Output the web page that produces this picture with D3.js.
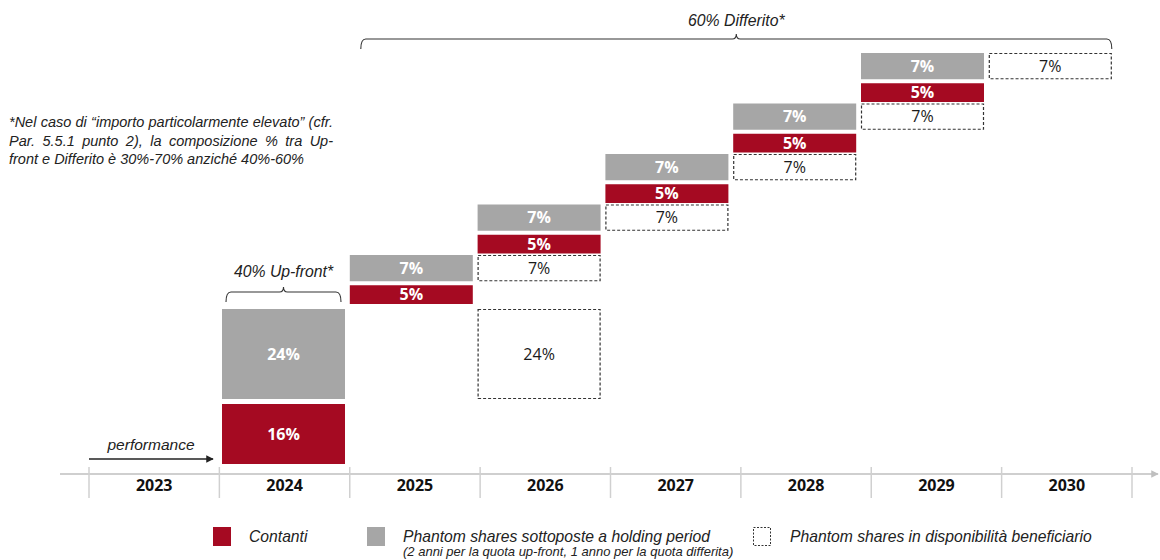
<!DOCTYPE html>
<html>
<head>
<meta charset="utf-8">
<script src="https://cdn.jsdelivr.net/npm/d3@7/dist/d3.min.js"></script>
<style>
  body { margin: 0; background: #fff; }
  svg { display: block; }
  .ital { font-family: "Liberation Sans", Arial, sans-serif; font-style: italic; fill: #222; }
  .barText { font-family: "Open Sans", sans-serif; font-size: 16px; }
</style>
</head>
<body>
<div class="chart"></div>
<script>
var svgWidth = 1160;
var svgHeight = 560;

// Data
var years = ["2023", "2024", "2025", "2026", "2027", "2028", "2029", "2030"];
var upfrontYear = "2024";
// paid blocks, stacked like a staircase (bottom to top)
var blockYears = ["2024", "2024", "2025", "2025", "2026", "2026", "2027", "2027", "2028", "2028", "2029", "2029"];
var blockKinds = ["cash", "shares", "cash", "shares", "cash", "shares", "cash", "shares", "cash", "shares", "cash", "shares"];
var blockValues = [16, 24, 5, 7, 5, 7, 5, 7, 5, 7, 5, 7];
// year in which each block of shares becomes available (after the holding period)
var releaseYears = [null, "2026", null, "2026", null, "2027", null, "2028", null, "2029", null, "2030"];

var upfrontLabel = "40% Up-front*";
var deferredLabel = "60% Differito*";
var noteLines = [
  "*Nel caso di \u201cimporto particolarmente elevato\u201d (cfr.",
  "Par. 5.5.1 punto 2), la composizione % tra Up-",
  "front e Differito \u00e8 30%-70% anzich\u00e9 40%-60%"
];
var legendLabels = ["Contanti", "Phantom shares sottoposte a holding period", "Phantom shares in disponibilit\u00e0 beneficiario"];
var legendSub = "(2 anni per la quota up-front, 1 anno per la quota differita)";

var red = "#A50A22";
var grey = "#A6A6A6";

var svg = d3.select(".chart")
  .append("svg")
  .attr("width", svgWidth)
  .attr("height", svgHeight);

// Scales
var xAxisScale = d3.scaleBand()
  .domain(years)
  .range([89, 1132]);

var xBar = d3.scaleBand()
  .domain(years)
  .range([94.2, 1111.8])
  .paddingInner(0.0376);

var yScale = d3.scaleLinear()
  .domain([0, 100])
  .range([464, 89]);

// build the blocks with small gaps between them
var cum = 0, off = 0;
var blocks = blockValues.map(function (v, i) {
  if (i > 0) {
    var same = blockYears[i] === blockYears[i - 1];
    off += blockYears[i - 1] === upfrontYear ? 5 : (same ? 4 : 1.5);
  }
  var b = {
    year: blockYears[i],
    kind: blockKinds[i],
    value: v,
    release: releaseYears[i],
    top: yScale(cum + v) - off,
    bottom: yScale(cum) - off
  };
  cum += v;
  return b;
});

var released = blocks.filter(function (d) { return d.release; });

// Axis
svg.append("defs").append("marker")
  .attr("id", "axisArrow")
  .attr("viewBox", "0 0 10 10")
  .attr("refX", 9).attr("refY", 5)
  .attr("markerWidth", 5).attr("markerHeight", 5)
  .attr("markerUnits", "strokeWidth")
  .attr("orient", "auto")
  .append("path").attr("d", "M0,0 L10,5 L0,10 z").attr("fill", "#BFBFBF");

svg.select("defs").append("marker")
  .attr("id", "perfArrow")
  .attr("viewBox", "0 0 10 10")
  .attr("refX", 9).attr("refY", 5)
  .attr("markerWidth", 5).attr("markerHeight", 5)
  .attr("markerUnits", "strokeWidth")
  .attr("orient", "auto")
  .append("path").attr("d", "M0,0 L10,5 L0,10 z").attr("fill", "#222");

var axisY = 474;
svg.append("line")
  .attr("x1", 60).attr("x2", 1158)
  .attr("y1", axisY).attr("y2", axisY)
  .attr("stroke", "#BFBFBF")
  .attr("stroke-width", 1.5)
  .attr("marker-end", "url(#axisArrow)");

var seps = years.map(function (y) { return xAxisScale(y); }).concat([xAxisScale.range()[1]]);
svg.selectAll(".sep")
  .data(seps)
  .enter()
  .append("line")
  .attr("class", "sep")
  .attr("x1", d => d).attr("x2", d => d)
  .attr("y1", 467).attr("y2", 498)
  .attr("stroke", "#D0D0D0")
  .attr("stroke-width", 1.5);

var bottomAxis = d3.axisBottom(xAxisScale).tickSize(0).tickPadding(6);
var axisG = svg.append("g")
  .attr("transform", `translate(0, ${axisY})`)
  .call(bottomAxis);
axisG.select(".domain").remove();
axisG.selectAll("text")
  .attr("font-family", "'Open Sans', sans-serif")
  .attr("font-size", 16)
  .attr("font-weight", "bold")
  .attr("fill", "#111");

// Paid blocks
svg.selectAll(".block")
  .data(blocks)
  .enter()
  .append("rect")
  .attr("class", "block")
  .attr("x", d => xBar(d.year))
  .attr("y", d => d.top)
  .attr("width", xBar.bandwidth())
  .attr("height", d => d.bottom - d.top)
  .attr("fill", d => d.kind === "cash" ? red : grey);

svg.selectAll(".blockText")
  .data(blocks)
  .enter()
  .append("text")
  .attr("class", "barText")
  .attr("x", d => xBar(d.year) + xBar.bandwidth() / 2)
  .attr("y", d => (d.top + d.bottom) / 2)
  .attr("dy", "0.36em")
  .attr("text-anchor", "middle")
  .attr("font-weight", "bold")
  .attr("fill", "#fff")
  .text(d => d.value + "%");

// Released shares (dashed)
svg.selectAll(".rel")
  .data(released)
  .enter()
  .append("rect")
  .attr("class", "rel")
  .attr("x", d => xBar(d.release) + 0.5)
  .attr("y", d => d.top + 0.5)
  .attr("width", xBar.bandwidth() - 1)
  .attr("height", d => d.bottom - d.top - 1)
  .attr("fill", "#fff")
  .attr("stroke", "#333")
  .attr("stroke-width", 1.2)
  .attr("stroke-dasharray", "3,2");

svg.selectAll(".relText")
  .data(released)
  .enter()
  .append("text")
  .attr("class", "barText")
  .attr("x", d => xBar(d.release) + xBar.bandwidth() / 2)
  .attr("y", d => (d.top + d.bottom) / 2)
  .attr("dy", "0.36em")
  .attr("text-anchor", "middle")
  .attr("fill", "#1a1a1a")
  .text(d => d.value + "%");

// Braces
function brace(x0, x1, y, h) {
  var cx = (x0 + x1) / 2;
  return `M${x0},${y + h} Q${x0},${y} ${x0 + 5},${y} H${cx - 4} Q${cx},${y} ${cx},${y - 5} Q${cx},${y} ${cx + 4},${y} H${x1 - 5} Q${x1},${y} ${x1},${y + h}`;
}

var upX0 = xBar(upfrontYear) + 4, upX1 = xBar(upfrontYear) + xBar.bandwidth() - 4;
svg.append("path")
  .attr("d", brace(upX0, upX1, 292, 10))
  .attr("fill", "none").attr("stroke", "#333").attr("stroke-width", 1.1);
svg.append("text")
  .attr("class", "ital")
  .attr("x", (upX0 + upX1) / 2).attr("y", 277)
  .attr("text-anchor", "middle")
  .attr("font-size", 15.8)
  .text(upfrontLabel);

var dfX0 = xBar("2025") + 11, dfX1 = xBar("2030") + xBar.bandwidth();
svg.append("path")
  .attr("d", brace(dfX0, dfX1, 39, 10))
  .attr("fill", "none").attr("stroke", "#333").attr("stroke-width", 1.1);
svg.append("text")
  .attr("class", "ital")
  .attr("x", (dfX0 + dfX1) / 2).attr("y", 26)
  .attr("text-anchor", "middle")
  .attr("font-size", 15.8)
  .text(deferredLabel);

// performance arrow
svg.append("line")
  .attr("x1", 89).attr("x2", 213)
  .attr("y1", 459).attr("y2", 459)
  .attr("stroke", "#222").attr("stroke-width", 1.5)
  .attr("marker-end", "url(#perfArrow)");
svg.append("text")
  .attr("class", "ital")
  .attr("x", 151).attr("y", 450)
  .attr("text-anchor", "middle")
  .attr("font-size", 15.5)
  .text("performance");

// Note (justified)
var noteX0 = 9, noteX1 = 333;
var noteY = [127, 145.5, 164];
noteLines.forEach(function (line, i) {
  var t = svg.append("text")
    .attr("class", "ital")
    .attr("font-size", 14.5)
    .attr("y", noteY[i]);
  if (i === noteLines.length - 1) {
    t.attr("x", noteX0).text(line);
    return;
  }
  var words = line.split(" ");
  var spans = words.map(w => t.append("tspan").text(w));
  var widths = spans.map(s => s.node().getComputedTextLength());
  var gap = (noteX1 - noteX0 - d3.sum(widths)) / (words.length - 1);
  var x = noteX0;
  spans.forEach(function (s, j) {
    s.attr("x", x);
    x += widths[j] + gap;
  });
});

// Legend
var legendX = [213, 367, 753];
var legendG = svg.append("g");
legendG.append("rect").attr("x", legendX[0]).attr("y", 527).attr("width", 18).attr("height", 19).attr("fill", red);
legendG.append("rect").attr("x", legendX[1]).attr("y", 527).attr("width", 18).attr("height", 19).attr("fill", grey);
legendG.append("rect").attr("x", legendX[2] + 0.5).attr("y", 527.5).attr("width", 17).attr("height", 18)
  .attr("fill", "#fff").attr("stroke", "#333").attr("stroke-width", 1).attr("stroke-dasharray", "2,1.5");

legendLabels.forEach(function (l, i) {
  legendG.append("text")
    .attr("class", "ital")
    .attr("x", legendX[i] + [36, 36, 37][i])
    .attr("y", 542)
    .attr("font-size", 15.7)
    .text(l);
});
legendG.append("text")
  .attr("class", "ital")
  .attr("x", legendX[1] + 36)
  .attr("y", 556)
  .attr("font-size", 13)
  .text(legendSub);
</script>
</body>
</html>
